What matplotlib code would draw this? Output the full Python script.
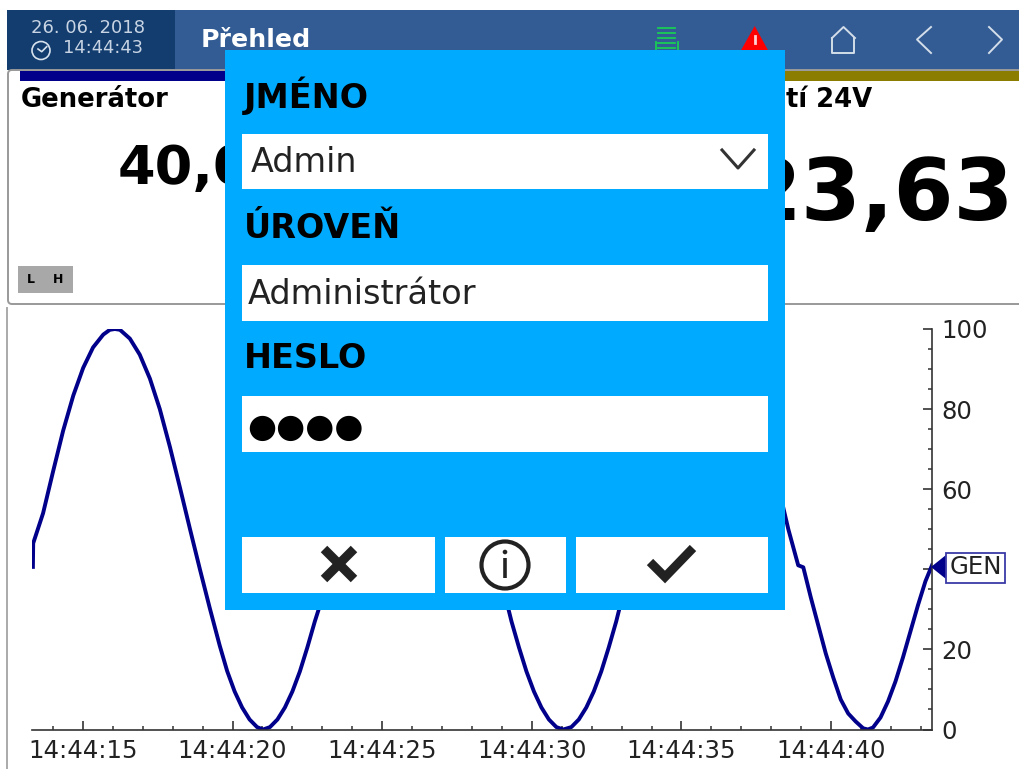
import matplotlib
matplotlib.use("Agg")
import matplotlib.pyplot as plt
from matplotlib.patches import Rectangle, Circle, Polygon, FancyBboxPatch

# generator trend, seconds after 14:44:00
times = [13.33, 13.34, 13.67, 14.00, 14.34, 14.68, 15.01, 15.34, 15.68, 15.90, 16.07, 16.24,
         16.57, 16.90, 17.24, 17.57, 17.91, 18.24, 18.58, 18.91, 19.24, 19.57,
         19.82, 20.07, 20.32, 20.57, 20.82, 21.02, 21.25, 21.50, 21.75, 22.00, 22.25, 22.50,
         22.75, 23.07, 23.57, 24.07, 24.57, 25.07, 25.57, 26.07, 26.57, 27.07, 27.57, 28.07, 28.57,
         29.07, 29.32, 29.57, 29.82, 30.07, 30.32, 30.57, 30.82, 31.05, 31.32, 31.57, 31.82, 32.07,
         32.32, 32.57, 32.82, 33.07, 33.57, 34.07, 34.57, 35.07, 35.57, 36.07, 36.57, 37.07, 37.57,
         38.07, 38.32, 38.57, 38.90, 39.07, 39.32, 39.57, 39.82, 40.07, 40.32, 40.57, 40.82, 41.07,
         41.23, 41.40, 41.65, 41.90, 42.15, 42.40, 42.65, 42.90, 43.15, 43.37]
values = [40.6, 46.5, 54, 64.3, 74.6, 83.4, 90.3, 95.4, 98.6, 99.8, 100, 99.8,
          97.6, 93.6, 87.6, 80, 70.5, 60.5, 50, 40, 30.3, 21,
          14.6, 9.5, 5.5, 2.5, 0.6, 0, 0.6, 2.5, 5.5, 9.5, 14.5, 20.5,
          27, 34.5, 50, 65.5, 79.5, 90.5, 97.5, 100, 97.5, 90.5, 79.5, 65.5, 50,
          34.5, 27, 20.5, 14.5, 9.5, 5.5, 2.5, 0.6, 0, 0.6, 2.5, 5.5, 9.5,
          14.5, 20.5, 27, 34.5, 50, 65.5, 79.5, 90.5, 97.5, 100, 97.5, 90.5, 79.5,
          65.5, 58, 50, 41, 40.5, 33, 26, 19, 13, 7.5, 4, 2, 0.3,
          0, 0.5, 3, 7, 12, 18, 24.5, 31, 37, 41]

x_ticks = [15, 20, 25, 30, 35, 40]
x_labels = ["14:44:15", "14:44:20", "14:44:25", "14:44:30", "14:44:35", "14:44:40"]
x_minor = [14, 16, 17, 18, 19, 21, 22, 23, 24, 26, 27, 28, 29, 31, 32, 33, 34, 36, 37, 38, 39, 41, 42, 43]
y_ticks = [0, 20, 40, 60, 80, 100]
y_labels = ["0", "20", "", "60", "80", "100"]  # the 40 sits under the GEN flag
y_minor = [5, 10, 15, 25, 30, 35, 45, 50, 55, 65, 70, 75, 85, 90, 95]

W, H = 1019, 769
BLUE = "#00aaff"
NAVY = "#00008b"
INK = "#222222"
ICON = "#d4deea"

fig = plt.figure(figsize=(W / 100, H / 100), dpi=100)


def pixel_axes(zorder):
    a = fig.add_axes([0, 0, 1, 1], zorder=zorder)
    a.set_xlim(0, W)
    a.set_ylim(H, 0)
    a.axis("off")
    return a


def box(a, x0, y0, x1, y1, color):
    a.add_patch(Rectangle((x0, y0), x1 - x0, y1 - y0, facecolor=color, edgecolor="none"))


# ---------- screen behind the dialog ----------
bg = pixel_axes(0)
box(bg, 7, 10, W, 70, "#335c94")
box(bg, 7, 10, 175, 70, "#123d6e")
bg.text(88.5, 28, "26. 06. 2018", color="#c8d4e4", fontsize=13, ha="center", va="center")
bg.text(103, 48, "14:44:43", color="#c8d4e4", fontsize=12.9, ha="center", va="center")
bg.add_patch(Circle((41, 50.5), 9, fill=False, edgecolor="#d8e2ee", lw=1.2))
bg.plot([38, 41.7, 46.7], [49, 51.7, 46.7], color="#d8e2ee", lw=1.2)
bg.text(201, 40, "Přehled", color="white", fontsize=18.2, fontweight="bold", va="center")

# status icons
for y in [28, 33, 38, 43, 48]:
    bg.plot([658, 675], [y, y], color="#19cc55", lw=1.3)
for x in [656, 678]:
    bg.plot([x, x], [42, 50], color="#19cc55", lw=1.3)
bg.add_patch(Polygon([(754.7, 26), (740, 52), (769, 52)], facecolor="#ff0000", edgecolor="none"))
bg.plot([755, 755], [36, 43], color="#ffd0d0", lw=2)
bg.plot([832, 843.5, 855], [38, 27, 38], color=ICON, lw=1.4)
bg.plot([832.5, 832.5, 854, 854], [38, 52.5, 52.5, 38], color=ICON, lw=1.4)
bg.plot([931, 917, 931], [27, 39.5, 53], color=ICON, lw=1.4)
bg.plot([989, 1002, 989], [27, 39.5, 53], color=ICON, lw=1.4)

# cards
bg.add_patch(FancyBboxPatch((8, 70), W, 234, boxstyle="round,pad=0,rounding_size=4",
                            facecolor="white", edgecolor="#999999", lw=1.4))
bg.plot([7.5, 7.5], [308, H], color="#aaaaaa", lw=1.4)
box(bg, 20, 71, 500, 80.5, "#00008b")
box(bg, 520, 71, W, 80.5, "#8a7d00")
bg.text(21, 100, "Generátor", fontsize=18.6, fontweight="bold", va="center")
bg.text(872, 100, "tí 24V", fontsize=18.6, fontweight="bold", va="center", ha="right")
bg.text(118, 169, "40,0", fontsize=39, fontweight="bold", va="center")
bg.text(1014, 196, "23,63", fontsize=62, fontweight="bold", va="center", ha="right")
box(bg, 18, 266, 73, 293, "#a8a8a8")
bg.text(31, 279.5, "L", fontsize=9, fontweight="bold", ha="center", va="center")
bg.text(58, 279.5, "H", fontsize=9, fontweight="bold", ha="center", va="center")

# ---------- trend chart ----------
ax = fig.add_axes([32 / W, 1 - 729.5 / H, 900 / W, 400.5 / H], zorder=1)
ax.patch.set_alpha(0)
ax.plot(times, values, color=NAVY, lw=2.8, solid_joinstyle="round")
ax.set_xlim(13.3, 43.37)
ax.set_ylim(0, 100)
ax.set_xticks(x_ticks)
ax.set_xticklabels(x_labels)
ax.set_xticks(x_minor, minor=True)
ax.yaxis.tick_right()
ax.set_yticks(y_ticks)
ax.set_yticklabels(y_labels)
ax.set_yticks(y_minor, minor=True)
ax.spines["top"].set_visible(False)
ax.spines["left"].set_visible(False)
for side in ["right", "bottom"]:
    ax.spines[side].set_color("#333333")
    ax.spines[side].set_linewidth(1.2)
ax.tick_params(which="major", direction="in", length=6.5, width=1.2, color="#333333",
               labelsize=17.6, labelcolor=INK, pad=7)
ax.tick_params(which="minor", direction="in", length=3, width=1.1, color="#333333")

# ---------- GEN marker and login dialog on top ----------
top = pixel_axes(2)
top.add_patch(Polygon([(931, 567), (946, 555), (946, 579)], facecolor=NAVY, edgecolor="none"))
top.add_patch(Rectangle((946, 552.5), 59, 30, facecolor="white", edgecolor="#3a3aa8", lw=1.3))
top.text(975.5, 567.5, "GEN", fontsize=17.6, color=INK, ha="center", va="center")

box(top, 225, 50, 785, 610, BLUE)
for y0, y1 in [(133.5, 189), (265, 320.5), (396, 452)]:
    box(top, 242, y0, 768, y1, "white")
for x0, x1 in [(242, 435), (445, 566), (576, 768)]:
    box(top, x0, 537, x1, 593, "white")

top.text(243.5, 96, "JMÉNO", fontsize=24, fontweight="bold", va="center")
top.text(243.5, 228, "ÚROVEŇ", fontsize=24, fontweight="bold", va="center")
top.text(243.5, 359, "HESLO", fontsize=24, fontweight="bold", va="center")
top.text(251, 162.5, "Admin", fontsize=24, color=INK, va="center")
top.text(248, 294, "Administrátor", fontsize=24.2, color=INK, va="center")
top.text(247, 427, "●●●●", fontsize=24, color="black", va="center")
top.plot([722, 738, 754], [150, 168, 150], color="#333333", lw=2.2)

top.plot([324, 354], [549, 579], color=INK, lw=6.6, solid_capstyle="butt")
top.plot([324, 354], [579, 549], color=INK, lw=6.6, solid_capstyle="butt")
top.add_patch(Circle((505, 565), 23.5, fill=False, edgecolor=INK, lw=3))
top.add_patch(Circle((505, 552), 2.3, facecolor=INK, edgecolor="none"))
top.plot([505, 505], [558, 578], color=INK, lw=2.6, solid_capstyle="butt")
top.plot([650, 665, 693], [562, 577, 548], color=INK, lw=6.4, solid_capstyle="butt", solid_joinstyle="miter")

fig.savefig("out.png", dpi=100)
